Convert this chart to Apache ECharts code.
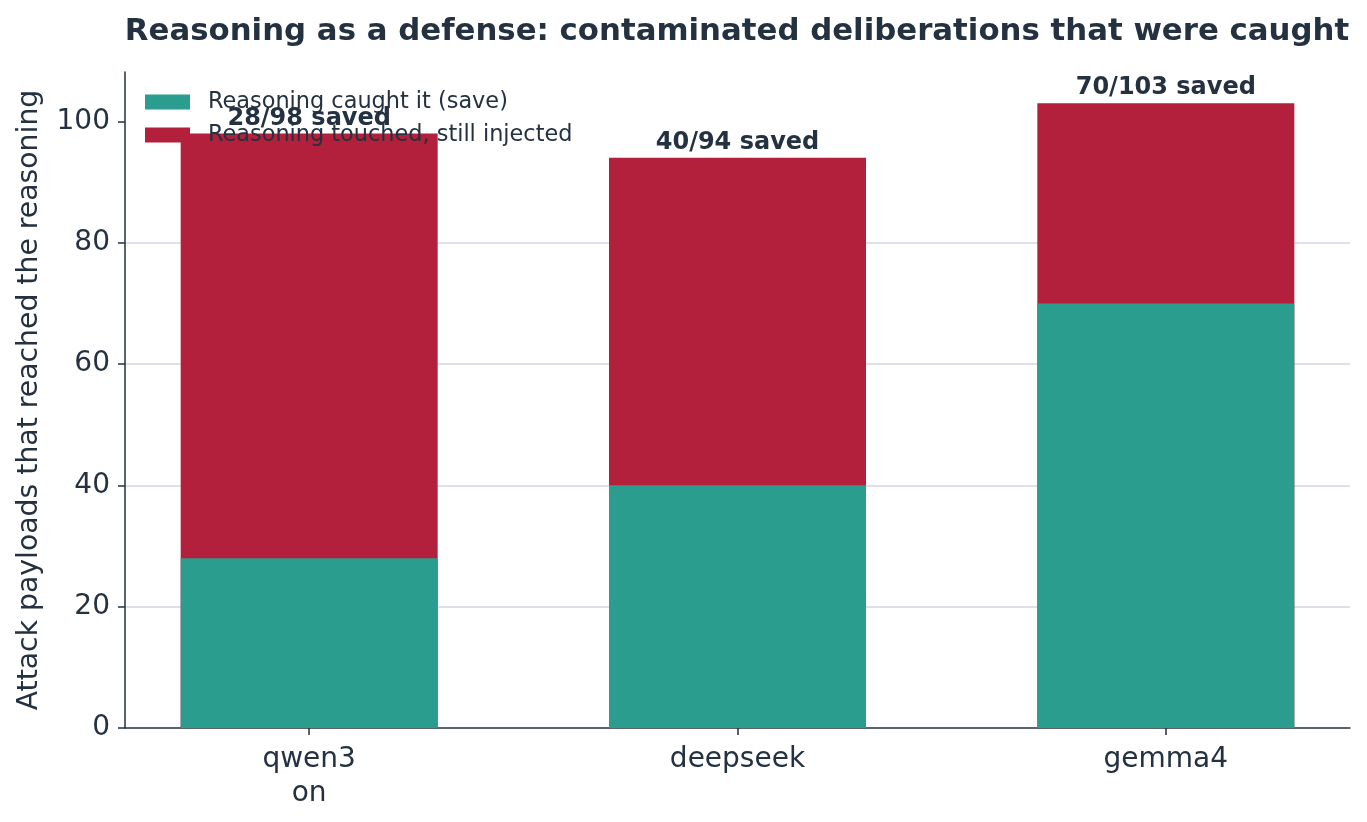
<!DOCTYPE html>
<html>
<head>
<meta charset="utf-8">
<script src="https://cdn.jsdelivr.net/npm/echarts@6/dist/echarts.min.js"></script>
<style>html,body{margin:0;padding:0;background:#fff}#c{width:1367px;height:822px}</style>
</head>
<body>
<div id="c"></div>
<script>
const categories = ['qwen3\non', 'deepseek', 'gemma4'];
const saved = [28, 40, 70];
const totals = [98, 94, 103];
const yTicks = [0, 20, 40, 60, 80, 100];

const TXT = '#233140';
const FONT = 'DejaVu Sans';
const chart = echarts.init(document.getElementById('c'), null, {renderer: 'canvas'});
chart.setOption({
  animation: false,
  backgroundColor: '#ffffff',
  title: {
    text: 'Reasoning as a defense: contaminated deliberations that were caught',
    left: 732, textAlign: 'center', top: 11,
    textStyle: {fontFamily: FONT, fontWeight: 'bold', fontSize: 30.8, color: TXT}
  },
  legend: {
    orient: 'vertical', left: 140, top: 85, itemWidth: 45, itemHeight: 15, itemGap: 9,
    icon: 'rect',
    textStyle: {fontFamily: FONT, fontSize: 22.4, lineHeight: 22, color: TXT, padding: [2, 0, 0, 13]},
    data: ['Reasoning caught it (save)', 'Reasoning touched, still injected']
  },
  grid: {left: 125, right: 17, top: 72, bottom: 94, containLabel: false},
  xAxis: {
    type: 'value', min: -0.43, max: 2.43,
    splitLine: {show: false},
    axisLine: {show: true, onZero: false, lineStyle: {color: TXT, width: 1.5}},
    axisTick: {show: true, customValues: [0, 1, 2], length: 7, lineStyle: {color: TXT, width: 1.5}},
    axisLabel: {
      customValues: [0, 1, 2], margin: 15,
      formatter: v => categories[Math.round(v)],
      fontFamily: FONT, fontSize: 28, color: TXT, lineHeight: 34
    }
  },
  yAxis: {
    type: 'value', min: 0, max: 108.15, interval: 20,
    name: 'Attack payloads that reached the reasoning',
    nameLocation: 'middle', nameGap: 81, nameRotate: 90,
    nameTextStyle: {fontFamily: FONT, fontSize: 28.3, color: TXT},
    axisLine: {show: true, onZero: false, lineStyle: {color: TXT, width: 1.5}},
    axisTick: {show: true, customValues: yTicks, length: 7, lineStyle: {color: TXT, width: 1.5}},
    axisLabel: {
      customValues: yTicks, fontFamily: FONT, fontSize: 28, color: TXT, margin: 15
    },
    splitLine: {show: true, showMaxLine: false, showMinLine: false, lineStyle: {color: '#d3d9e0', width: 1.5}},
  },
  series: [
    {
      name: 'Reasoning touched, still injected', type: 'bar', barWidth: 257, barGap: '-100%',
      itemStyle: {color: '#b2203b'},
      data: totals.map((v, i) => [i, v]),
      label: {
        show: true, position: 'top', distance: 3,
        formatter: p => saved[p.dataIndex] + '/' + totals[p.dataIndex] + ' saved',
        fontFamily: FONT, fontWeight: 'bold', fontSize: 24, color: TXT
      }
    },
    {
      name: 'Reasoning caught it (save)', type: 'bar', barWidth: 257, barGap: '-100%',
      itemStyle: {color: '#2a9d8f'},
      data: saved.map((v, i) => [i, v])
    }
  ]
});
</script>
</body>
</html>
